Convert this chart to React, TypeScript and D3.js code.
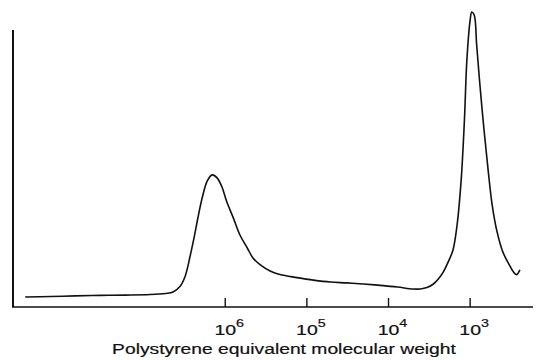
import { useEffect, useRef } from "react";
import * as d3 from "d3";

// log10 of polystyrene-equivalent molecular weight (axis runs high -> low)
const logMW = [
  8.45, 8.14, 7.84, 7.53, 7.22, 6.92, 6.73, 6.64, 6.55, 6.49, 6.43, 6.38, 6.34, 6.28, 6.22,
  6.16, 6.1, 6.04, 5.98, 5.9, 5.82, 5.73, 5.66, 5.57, 5.45, 5.33, 5.12, 4.92, 4.71, 4.51,
  4.31, 4.1, 3.89, 3.7, 3.61, 3.53, 3.45, 3.39, 3.33, 3.27, 3.21, 3.16, 3.11, 3.07, 3.04,
  3.0, 2.98, 2.95, 2.92, 2.88, 2.83, 2.78, 2.73, 2.67, 2.6, 2.52, 2.46, 2.43, 2.39,
];
// detector response (arbitrary units)
const signal = [
  3.6, 3.8, 4.0, 4.2, 4.3, 4.5, 4.9, 5.4, 7.6, 11.2, 18.4, 25.3, 31.4, 39.7, 45.5,
  47.7, 46.6, 43.3, 37.9, 32.1, 26.0, 21.3, 17.7, 15.2, 13.0, 11.7, 10.6, 9.7, 9.0, 8.7,
  8.3, 7.8, 7.2, 6.5, 6.5, 7.0, 8.3, 10.1, 12.6, 16.2, 20.6, 29.6, 45.8, 67.5, 89.2,
  103.6, 106.5, 105.4, 94.6, 80.1, 63.9, 49.5, 36.8, 27.1, 19.9, 15.2, 12.3, 11.7, 13.4,
];
const tickPowers = [6, 5, 4, 3];
const xLabel = "Polystyrene equivalent molecular weight";

export default function App() {
  const svgRef = useRef<SVGSVGElement>(null);

  useEffect(() => {
    const svg = d3.select(svgRef.current);
    svg.selectAll("*").remove();

    const font = "'Liberation Sans', Arial, sans-serif";
    const x = d3.scaleLinear().domain([8.6, 2.23]).range([13, 533]);
    const y = d3.scaleLinear().domain([0, 100]).range([307, 30]);

    // axes
    svg.append("line")
      .attr("x1", 13).attr("x2", 13)
      .attr("y1", y(100)).attr("y2", y(0))
      .attr("stroke", "#111").attr("stroke-width", 2);
    svg.append("line")
      .attr("x1", 12).attr("x2", x(2.23))
      .attr("y1", y(0)).attr("y2", y(0))
      .attr("stroke", "#111").attr("stroke-width", 1.6);

    tickPowers.forEach((p) => {
      svg.append("line")
        .attr("x1", x(p)).attr("x2", x(p))
        .attr("y1", y(0)).attr("y2", y(0) - 9)
        .attr("stroke", "#111").attr("stroke-width", 1.4);
      const t = svg.append("text")
        .attr("transform", `translate(${x(p) + 4},335) scale(1.3,1)`)
        .attr("text-anchor", "middle")
        .attr("font-family", font)
        .attr("font-size", 15)
        .attr("fill", "#111")
        .attr("stroke", "#111")
        .attr("stroke-width", 0.2);
      t.append("tspan").text("10");
      t.append("tspan").attr("dy", -8).attr("font-size", 11).text(String(p));
    });

    const pts: [number, number][] = logMW.map((m, i) => [m, signal[i]]);
    const line = d3.line<[number, number]>()
      .x((d) => x(d[0]))
      .y((d) => y(d[1]))
      .curve(d3.curveCatmullRom.alpha(0.5));
    svg.append("path")
      .attr("d", line(pts))
      .attr("fill", "none")
      .attr("stroke", "#111")
      .attr("stroke-width", 1.6);

    svg.append("text")
      .attr("transform", "translate(284,354) scale(1.33,1)")
      .attr("text-anchor", "middle")
      .attr("font-family", font)
      .attr("font-size", 14.5)
      .attr("fill", "#111")
      .attr("stroke", "#111")
      .attr("stroke-width", 0.2)
      .text(xLabel);
  }, []);

  return (
    <svg
      ref={svgRef}
      width={540}
      height={360}
      style={{ position: "absolute", left: 0, top: 0, background: "#fff" }}
    />
  );
}
